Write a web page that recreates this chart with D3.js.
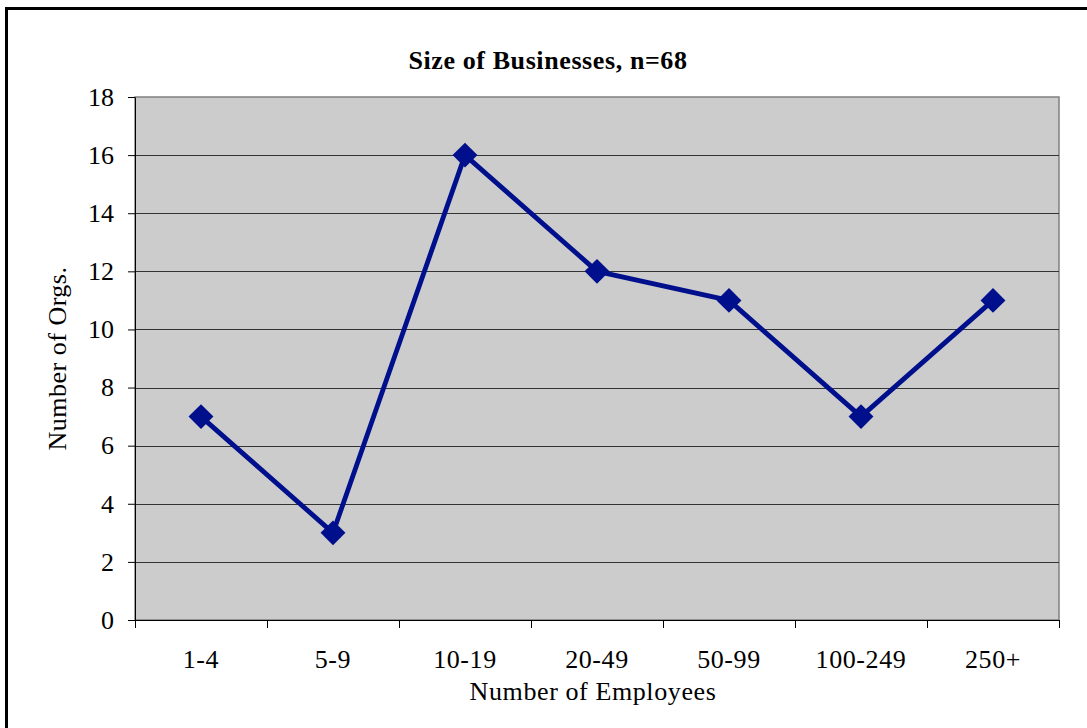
<!DOCTYPE html>
<html>
<head>
<meta charset="utf-8">
<script src="https://cdn.jsdelivr.net/npm/d3@7"></script>
<style>
  html, body { margin: 0; padding: 0; background: #ffffff; }
  svg { display: block; }
  text { font-family: "Liberation Serif", "Times New Roman", serif; fill: #000; }
</style>
</head>
<body>
<svg id="chart" width="1087" height="728"></svg>
<script>
// Businesses by employee count
const categories = ["1-4", "5-9", "10-19", "20-49", "50-99", "100-249", "250+"];
const orgCounts = [7, 3, 16, 12, 11, 7, 11];
const yTicks = [0, 2, 4, 6, 8, 10, 12, 14, 16, 18];

const chartTitle = "Size of Businesses, n=68";
const xTitle = "Number of Employees";
const yTitle = "Number of Orgs.";

const W = 1087, H = 728;
const plot = { left: 135, right: 1059, top: 97, bottom: 620 };
const lineColor = "#000F8C";
const fontSize = "26px";

const svg = d3.select("#chart");

// outer chart frame (runs off the right and bottom edges)
svg.append("rect")
  .attr("x", 6.5).attr("y", 8.5)
  .attr("width", W + 20).attr("height", H + 20)
  .attr("fill", "#fff").attr("stroke", "#000").attr("stroke-width", 3);

const x = d3.scaleBand().domain(categories).range([plot.left, plot.right]).padding(0);
const y = d3.scaleLinear().domain([0, 18]).range([plot.bottom, plot.top]);

// plot area
svg.append("rect")
  .attr("x", plot.left).attr("y", plot.top)
  .attr("width", plot.right - plot.left).attr("height", plot.bottom - plot.top)
  .attr("fill", "#CCCCCC").attr("stroke", "#808080").attr("stroke-width", 1.5);

// horizontal gridlines
svg.append("g").selectAll("line")
  .data(yTicks.filter(d => d > 0 && d < 18))
  .join("line")
  .attr("x1", plot.left).attr("x2", plot.right)
  .attr("y1", d => Math.round(y(d)) + 0.5).attr("y2", d => Math.round(y(d)) + 0.5)
  .attr("stroke", "#333").attr("stroke-width", 1.2);

// y axis
const yAxis = d3.axisLeft(y).tickValues(yTicks).tickSize(7).tickPadding(14).tickSizeOuter(0);
const gy = svg.append("g").attr("transform", `translate(${plot.left},0)`).call(yAxis);
gy.select(".domain").attr("stroke", "#000");
gy.selectAll(".tick line").attr("stroke", "#000");
gy.selectAll(".tick text")
  .style("font-family", '"Liberation Serif", serif')
  .style("font-size", fontSize).attr("fill", "#000");

// x axis: ticks on category boundaries, labels centred in each band
const gx = svg.append("g").attr("transform", `translate(0,${plot.bottom})`);
gx.append("line")
  .attr("x1", plot.left - 7).attr("x2", plot.right)
  .attr("y1", 0.5).attr("y2", 0.5).attr("stroke", "#000");
const boundaries = categories.map(c => x(c)).concat([plot.right]);
gx.selectAll("line.tick").data(boundaries).join("line").attr("class", "tick")
  .attr("x1", d => Math.round(d) + 0.5).attr("x2", d => Math.round(d) + 0.5)
  .attr("y1", 0).attr("y2", 8).attr("stroke", "#000");
gx.selectAll("text").data(categories).join("text")
  .attr("x", d => x(d) + x.bandwidth() / 2)
  .attr("y", 48)
  .attr("text-anchor", "middle")
  .style("font-size", fontSize)
  .style("letter-spacing", "0.6px")
  .text(d => d);

// series line
const line = d3.line()
  .x((d, i) => x(categories[i]) + x.bandwidth() / 2)
  .y(d => y(d));
svg.append("path")
  .datum(orgCounts)
  .attr("d", line)
  .attr("fill", "none")
  .attr("stroke", lineColor)
  .attr("stroke-width", 4.8)
  .attr("stroke-linejoin", "round");

// diamond markers
const diamond = d3.symbol().type(d3.symbolSquare).size(310);
svg.append("g").selectAll("path")
  .data(orgCounts)
  .join("path")
  .attr("d", diamond)
  .attr("transform", (d, i) => `translate(${x(categories[i]) + x.bandwidth() / 2},${y(d)}) rotate(45)`)
  .attr("fill", lineColor);

// titles
svg.append("text")
  .attr("x", 548).attr("y", 69)
  .attr("text-anchor", "middle")
  .style("font-size", fontSize).style("font-weight", "bold")
  .style("letter-spacing", "0.6px")
  .text(chartTitle);

svg.append("text")
  .attr("x", 593).attr("y", 700)
  .attr("text-anchor", "middle")
  .style("font-size", fontSize)
  .style("letter-spacing", "0.6px")
  .text(xTitle);

svg.append("text")
  .attr("transform", `translate(66,${(plot.top + plot.bottom) / 2}) rotate(-90)`)
  .attr("text-anchor", "middle")
  .style("font-size", fontSize)
  .style("letter-spacing", "0.5px")
  .text(yTitle);
</script>
</body>
</html>
